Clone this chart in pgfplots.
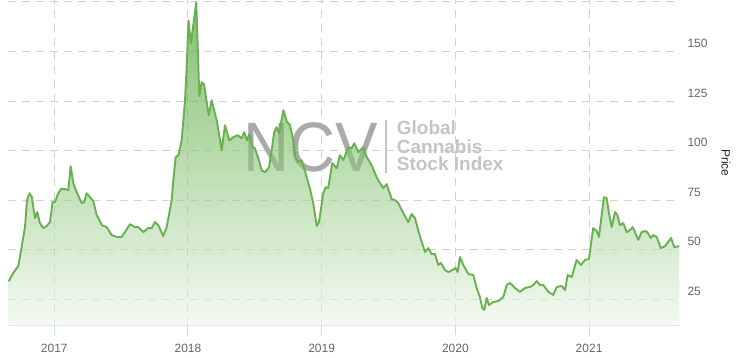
\documentclass[border=0pt]{standalone}
\usepackage{pgfplots}
\pgfplotsset{compat=1.18}
\usepackage{pgfplotstable}
\usepackage{fontspec}
\setmainfont{Liberation Sans}
\definecolor{axisblue}{RGB}{204,214,235}
\definecolor{gridgray}{RGB}{210,210,210}
\definecolor{labelgray}{RGB}{102,102,102}
\definecolor{linegreen}{RGB}{104,176,80}
\definecolor{areatop}{RGB}{47,150,13}
\definecolor{areabot}{RGB}{236,246,233}
\definecolor{wmdark}{RGB}{170,170,170}
\definecolor{wmlight}{RGB}{196,196,196}

\pgfplotstableread{
x y
2016.659 34.0
2016.693 38.2
2016.731 41.8
2016.756 51.3
2016.781 61.4
2016.796 75.0
2016.815 78.5
2016.833 76.5
2016.844 71.0
2016.856 65.9
2016.873 69.0
2016.893 63.4
2016.918 60.9
2016.943 61.9
2016.968 63.9
2016.987 74.0
2017.005 74.0
2017.030 78.5
2017.050 80.6
2017.080 80.6
2017.105 80.1
2017.123 92.1
2017.142 83.6
2017.168 79.0
2017.205 73.5
2017.224 74.0
2017.242 78.5
2017.267 76.5
2017.292 74.5
2017.317 67.5
2017.342 64.4
2017.355 62.4
2017.392 61.4
2017.429 57.4
2017.467 56.4
2017.504 56.4
2017.529 58.9
2017.566 62.9
2017.604 61.4
2017.628 61.4
2017.666 58.9
2017.703 60.9
2017.729 60.9
2017.753 63.9
2017.778 62.4
2017.815 56.9
2017.841 61.4
2017.878 75.0
2017.892 86.1
2017.908 96.7
2017.929 97.7
2017.953 105.2
2017.978 125.4
2017.990 142.0
2018.004 165.7
2018.022 154.1
2018.062 174.8
2018.085 127.4
2018.102 134.5
2018.120 133.5
2018.155 117.8
2018.177 125.4
2018.215 115.3
2018.252 100.2
2018.277 112.8
2018.309 105.2
2018.339 106.8
2018.372 107.8
2018.402 106.2
2018.421 109.3
2018.441 105.2
2018.459 108.3
2018.481 102.2
2018.501 101.2
2018.526 96.2
2018.551 90.1
2018.576 89.1
2018.606 91.6
2018.626 100.2
2018.645 109.3
2018.663 111.8
2018.681 108.8
2018.714 120.4
2018.738 114.8
2018.763 112.8
2018.788 105.2
2018.804 96.2
2018.825 94.2
2018.850 95.2
2018.875 89.6
2018.913 80.6
2018.937 73.5
2018.963 61.9
2018.980 63.9
2019.012 78.5
2019.030 81.6
2019.049 81.1
2019.079 93.7
2019.112 91.1
2019.137 97.7
2019.162 95.2
2019.199 101.7
2019.224 101.2
2019.244 103.7
2019.274 99.2
2019.311 101.7
2019.337 96.7
2019.374 92.6
2019.411 86.6
2019.436 83.6
2019.461 81.1
2019.486 83.1
2019.524 75.5
2019.548 75.0
2019.573 73.5
2019.610 68.5
2019.648 63.9
2019.673 68.0
2019.698 65.9
2019.722 59.9
2019.743 54.9
2019.773 48.8
2019.797 50.8
2019.823 47.8
2019.847 47.8
2019.872 42.3
2019.892 43.3
2019.922 39.7
2019.947 38.7
2019.977 39.7
2020.002 40.8
2020.017 38.7
2020.034 46.3
2020.059 42.3
2020.097 37.7
2020.134 37.2
2020.159 30.7
2020.184 26.1
2020.201 20.6
2020.216 19.6
2020.234 25.6
2020.251 22.1
2020.284 23.6
2020.321 24.1
2020.358 26.1
2020.384 32.2
2020.408 33.2
2020.446 30.7
2020.483 28.7
2020.521 30.7
2020.558 31.2
2020.583 32.2
2020.608 34.2
2020.633 32.2
2020.657 32.2
2020.695 28.7
2020.732 27.2
2020.758 31.2
2020.795 31.7
2020.820 29.7
2020.840 37.2
2020.870 36.2
2020.907 44.8
2020.939 42.3
2020.969 44.8
2020.999 45.3
2021.031 60.9
2021.057 59.4
2021.074 56.4
2021.094 67.5
2021.111 76.5
2021.132 76.0
2021.151 67.5
2021.169 61.4
2021.194 69.0
2021.211 67.5
2021.231 62.4
2021.256 63.4
2021.281 58.9
2021.306 59.9
2021.326 61.4
2021.343 58.9
2021.368 54.9
2021.393 58.9
2021.418 59.4
2021.435 58.9
2021.461 55.9
2021.480 57.4
2021.506 56.4
2021.536 50.8
2021.568 51.8
2021.592 53.9
2021.613 55.9
2021.637 51.3
2021.675 51.8
}\pricedata

\begin{document}
\begin{tikzpicture}[x=1pt,y=1pt]
\begin{axis}[
  at={(0pt,0pt)}, anchor=south west,
  scale only axis, width=672pt, height=326pt,
  xmin=2016.654, xmax=2021.68, ymin=11.5, ymax=176,
  axis x line=bottom, axis y line=right,
  axis line style={-},
  x axis line style={draw=axisblue, line width=1pt},
  y axis line style={draw=none},
  xtick={2017,2018,2019,2020,2021},
  xticklabels={2017,2018,2019,2020,2021},
  ytick={25,50,75,100,125,150,175},
  yticklabels={25,50,75,100,125,150,{}},
  tick align=outside,
  major tick length=9pt,
  xtick style={draw=axisblue, line width=1pt},
  ytick style={draw=none},
  grid=major,
  major grid style={draw=gridgray, line width=1pt, dash pattern=on 8pt off 6pt},
  ticklabel style={font=\fontsize{12}{14}\selectfont, text=labelgray},
  xticklabel style={yshift=-6pt},
  yticklabel style={xshift=-5pt, yshift=8pt},
  /pgf/number format/assume math mode=true,
]
\node[anchor=base west, inner sep=0pt, text=wmdark, font=\fontsize{70}{70}\selectfont, xscale=0.91, transform shape] at (rel axis cs:0.3497,0.4733) {NCV};
\draw[wmlight, line width=1.5pt] (rel axis cs:0.5625,0.4693) -- (rel axis cs:0.5625,0.6319);
\node[anchor=base west, inner sep=0pt, text=wmlight, font=\bfseries\fontsize{19}{19}\selectfont] at (rel axis cs:0.5784,0.5859) {Global};
\node[anchor=base west, inner sep=0pt, text=wmlight, font=\bfseries\fontsize{19}{19}\selectfont] at (rel axis cs:0.5784,0.5298) {Cannabis};
\node[anchor=base west, inner sep=0pt, text=wmlight, font=\bfseries\fontsize{19}{19}\selectfont] at (rel axis cs:0.5784,0.4764) {Stock Index};
\addplot[draw=none, fill opacity=0.6, top color=areatop, bottom color=areabot] table {\pricedata} \closedcycle;
\addplot[linegreen, line width=1.9pt, line join=round, mark=none] table {\pricedata};
\end{axis}
\node[rotate=-90, font=\fontsize{12}{14}\selectfont, text=black!85] at (718pt,163pt) {Price};
\pgfresetboundingbox
\path[use as bounding box] (-8pt,-32pt) rectangle (728pt,326pt);
\end{tikzpicture}
\end{document}
